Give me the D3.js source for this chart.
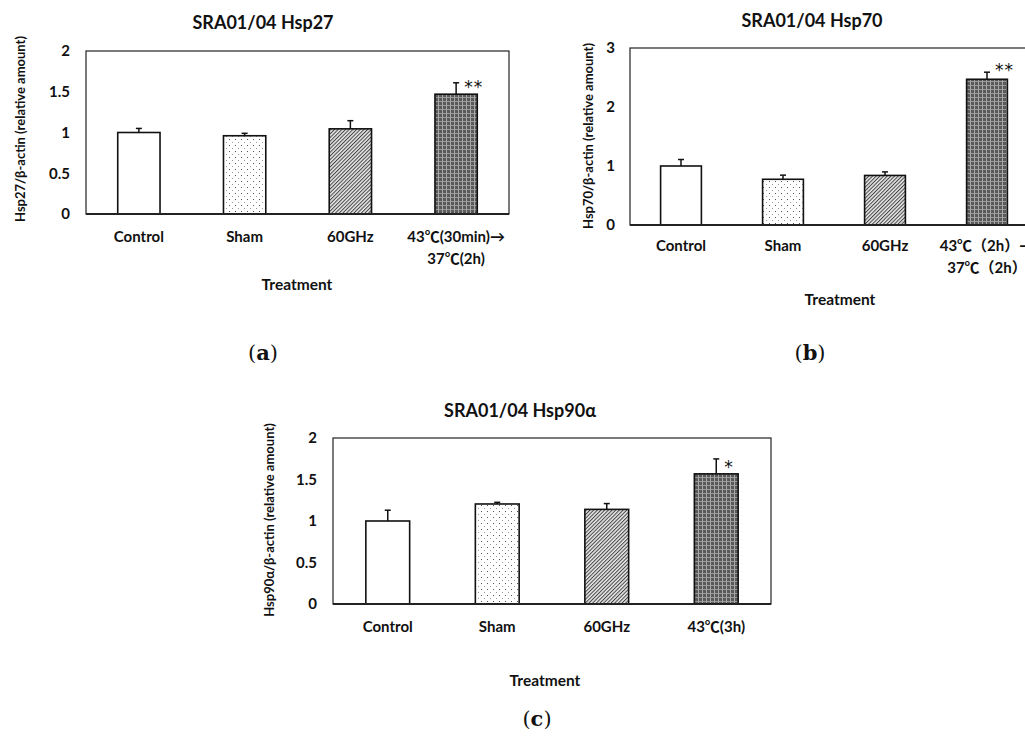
<!DOCTYPE html>
<html>
<head>
<meta charset="utf-8">
<script src="https://cdn.jsdelivr.net/npm/d3@7"></script>
<style>
  body { margin: 0; background: #fff; }
  svg text { font-family: Lato, "Noto Sans CJK JP", sans-serif; font-weight: bold; fill: #111; }
  svg text.cap { font-family: "DejaVu Serif", "Liberation Serif", serif; font-weight: normal; }
  svg text.star { font-family: "DejaVu Sans", sans-serif; font-weight: normal; }
</style>
</head>
<body>
<div id="fig"></div>
<script>
// categories and values
var categoriesA = ["Control", "Sham", "60GHz", "43℃(30min)→|37℃(2h)"];
var valuesA = [1.00, 0.96, 1.045, 1.47];
var errorsA = [0.05, 0.03, 0.10, 0.14];
var marksA = ["", "", "", "**"];
var ticksA = [0, 0.5, 1, 1.5, 2];

var categoriesB = ["Control", "Sham", "60GHz", "43℃（2h）→|37℃（2h）"];
var valuesB = [1.00, 0.775, 0.84, 2.47];
var errorsB = [0.11, 0.07, 0.06, 0.12];
var marksB = ["", "", "", "**"];
var ticksB = [0, 1, 2, 3];

var categoriesC = ["Control", "Sham", "60GHz", "43℃(3h)"];
var valuesC = [1.00, 1.205, 1.14, 1.568];
var errorsC = [0.13, 0.02, 0.07, 0.18];
var marksC = ["", "", "", "*"];
var ticksC = [0, 0.5, 1, 1.5, 2];

var fills = ["#fff", "url(#dots)", "url(#hatch)", "url(#check)"];

var svg = d3.select("#fig").append("svg")
    .attr("width", 1025)
    .attr("height", 746)

// patterns for the bar fills
var defs = svg.append("defs");

var dots = defs.append("pattern").attr("id", "dots").attr("patternUnits", "userSpaceOnUse")
    .attr("width", 6).attr("height", 6);
dots.append("rect").attr("width", 6).attr("height", 6).attr("fill", "#fff");
dots.append("rect").attr("x", 1).attr("y", 1).attr("width", 1).attr("height", 1).attr("fill", "#555");
dots.append("rect").attr("x", 4).attr("y", 4).attr("width", 1).attr("height", 1).attr("fill", "#999");

var hatch = defs.append("pattern").attr("id", "hatch").attr("patternUnits", "userSpaceOnUse")
    .attr("width", 2.6).attr("height", 2.6).attr("patternTransform", "rotate(45)");
hatch.append("rect").attr("width", 2.6).attr("height", 2.6).attr("fill", "#e6e6e6");
hatch.append("rect").attr("width", 1).attr("height", 2.6).attr("fill", "#444");

var check = defs.append("pattern").attr("id", "check").attr("patternUnits", "userSpaceOnUse")
    .attr("width", 4).attr("height", 4);
check.append("rect").attr("width", 4).attr("height", 4).attr("fill", "#5a5a5a");
check.append("rect").attr("x", 0).attr("y", 1).attr("width", 4).attr("height", 1).attr("fill", "#999");
check.append("rect").attr("x", 2).attr("y", 0).attr("width", 1).attr("height", 4).attr("fill", "#a8a8a8");

function drawChart(cfg){
  var g = svg.append("g");

  var x = d3.scaleBand()
      .domain(cfg.categories)
      .range([cfg.left, cfg.right])
      .paddingInner(0.6)
      .paddingOuter(0.3);
  var y = d3.scaleLinear()
      .domain([0, cfg.yMax])
      .range([cfg.bottom, cfg.top]);

  // frame
  g.append("rect")
    .attr("x", cfg.left).attr("y", cfg.top)
    .attr("width", cfg.right - cfg.left).attr("height", cfg.bottom - cfg.top)
    .attr("fill", "none").attr("stroke", "#222").attr("stroke-width", 1.2);

  // y axis labels, no tick marks
  var yAxis = d3.axisLeft(y).tickValues(cfg.ticks).tickSize(0).tickPadding(cfg.left - cfg.tickRight)
      .tickFormat(d3.format("~g"));
  var ya = g.append("g").attr("transform", "translate(" + cfg.left + ",0)").call(yAxis);
  ya.select(".domain").remove();
  ya.selectAll("text").attr("font-size", 15).style("font-family", null);

  // bars
  g.selectAll(".bar").data(cfg.values).enter().append("rect")
    .attr("class", "bar")
    .attr("x", function(d, i){ return x(cfg.categories[i]); })
    .attr("width", x.bandwidth())
    .attr("y", function(d){ return y(d); })
    .attr("height", function(d){ return y(0) - y(d); })
    .attr("fill", function(d, i){ return fills[i]; })
    .attr("stroke", "#111").attr("stroke-width", 1.6);

  // error bars (upper only)
  cfg.values.forEach(function(v, i){
    var cx = x(cfg.categories[i]) + x.bandwidth() / 2;
    var top = y(v + cfg.errors[i]);
    g.append("line").attr("x1", cx).attr("x2", cx)
      .attr("y1", y(v)).attr("y2", top)
      .attr("stroke", "#111").attr("stroke-width", 1.5);
    g.append("line").attr("x1", cx - 3).attr("x2", cx + 3)
      .attr("y1", top).attr("y2", top)
      .attr("stroke", "#111").attr("stroke-width", 1.5);
    if(cfg.marks[i]){
      g.append("text").attr("class", "star").attr("x", cx + 8).attr("y", top + cfg.starDy)
        .attr("font-size", 17).attr("letter-spacing", 1)
        .text(cfg.marks[i]);
    }
  });

  // bottom axis line, a little heavier
  g.append("line").attr("x1", cfg.left).attr("x2", cfg.right)
    .attr("y1", cfg.bottom).attr("y2", cfg.bottom)
    .attr("stroke", "#222").attr("stroke-width", 2);

  // category labels, "|" splits lines
  cfg.categories.forEach(function(c){
    var t = g.append("text").attr("text-anchor", "middle").attr("font-size", 15)
      .attr("x", x(c) + x.bandwidth() / 2).attr("y", cfg.bottom + cfg.labelGap);
    c.split("|").forEach(function(line, k){
      t.append("tspan").attr("x", x(c) + x.bandwidth() / 2).attr("dy", k == 0 ? 0 : 22).text(line);
    });
  });

  g.append("text").attr("text-anchor", "middle").attr("font-size", 18)
    .attr("x", cfg.titleX).attr("y", cfg.titleY).text(cfg.title);

  g.append("text").attr("text-anchor", "middle").attr("font-size", 15.5)
    .attr("x", cfg.xTitleX).attr("y", cfg.xTitleY).text("Treatment");

  g.append("text").attr("text-anchor", "middle").attr("font-size", 13)
    .attr("transform", "translate(" + cfg.yTitleX + "," + cfg.yTitleY + ") rotate(-90)")
    .text(cfg.yTitle);

  var cap = g.append("text").attr("class", "cap").attr("text-anchor", "middle").attr("font-size", 21)
    .attr("x", cfg.capX).attr("y", cfg.capY);
  cap.append("tspan").text("(");
  cap.append("tspan").attr("font-weight", "bold").text(cfg.cap);
  cap.append("tspan").text(")");
}

drawChart({
  categories: categoriesA, values: valuesA, errors: errorsA, marks: marksA, ticks: ticksA, yMax: 2,
  left: 86, right: 509, top: 51, bottom: 214, tickRight: 70, labelGap: 28, starDy: 10,
  title: "SRA01/04 Hsp27", titleX: 263, titleY: 29,
  xTitleX: 297, xTitleY: 290,
  yTitle: "Hsp27/β-actin (relative amount)", yTitleX: 25, yTitleY: 129,
  cap: "a", capX: 263, capY: 360
});

drawChart({
  categories: categoriesB, values: valuesB, errors: errorsB, marks: marksB, ticks: ticksB, yMax: 3,
  left: 630, right: 1038, top: 48, bottom: 225, tickRight: 615, labelGap: 26, starDy: 4,
  title: "SRA01/04 Hsp70", titleX: 812, titleY: 27,
  xTitleX: 840, xTitleY: 305,
  yTitle: "Hsp70/β-actin (relative amount)", yTitleX: 593, yTitleY: 136,
  cap: "b", capX: 810, capY: 360
});

drawChart({
  categories: categoriesC, values: valuesC, errors: errorsC, marks: marksC, ticks: ticksC, yMax: 2,
  left: 333, right: 771, top: 438, bottom: 604, tickRight: 317, labelGap: 28, starDy: 14,
  title: "SRA01/04 Hsp90α", titleX: 520, titleY: 417,
  xTitleX: 545, xTitleY: 686,
  yTitle: "Hsp90α/β-actin (relative amount)", yTitleX: 274, yTitleY: 520,
  cap: "c", capX: 537, capY: 726
});
</script>
</body>
</html>
